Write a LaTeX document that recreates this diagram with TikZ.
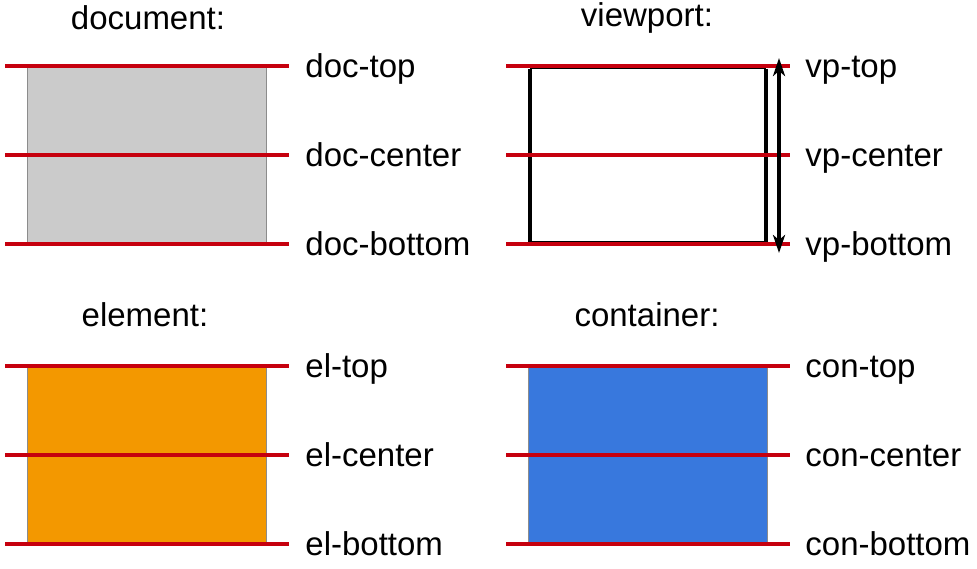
\documentclass[tikz,border=0pt]{standalone}
\usepackage{fontspec}
\setmainfont{Liberation Sans}
\usetikzlibrary{positioning, arrows.meta}
\definecolor{cRed}{HTML}{C6000E}
\definecolor{cGray}{HTML}{CBCBCB}
\definecolor{cOrange}{HTML}{F39800}
\definecolor{cBlue}{HTML}{3878DD}

\begin{document}
\begin{tikzpicture}[
    x=0.5pt, y=-0.5pt,
    % ---------------------------------------------------------
    % styles
    % ---------------------------------------------------------
    mark line/.style={
        draw=cRed,
        line width=2pt
    },
    panel/.style={
        fill=#1,
        draw=gray!90,
        line width=0.5pt
    },
    frame side/.style={
        draw=black,
        line width=2pt
    },
    frame edge/.style={
        draw=black,
        line width=0.8pt
    },
    edge label/.style={
        anchor=base west,
        inner sep=0pt,
        font=\fontsize{16.5}{20}\selectfont
    },
    title/.style={
        inner sep=0pt,
        font=\fontsize{16.5}{20}\selectfont
    }
]
\useasboundingbox (0,0) rectangle (977,568);

% ---------------------------------------------------------
% 1. document
% ---------------------------------------------------------
\node[title] (docTitle) at (148,18) {document:};
\draw[panel=cGray] (27,66) rectangle (266,244);
\coordinate (docTopL) at (5,66);
\coordinate (docTopR) at (289,66);
\coordinate (docMidL) at (5,155);
\coordinate (docMidR) at (289,155);
\coordinate (docBotL) at (5,244);
\coordinate (docBotR) at (289,244);
\draw[mark line] (docTopL) -- (docTopR);
\draw[mark line] (docMidL) -- (docMidR);
\draw[mark line] (docBotL) -- (docBotR);
\node[edge label] (docTop) at (305,77) {doc-top};
\node[edge label] (docCenter) at (305,166) {doc-center};
\node[edge label] (docBottom) at (305,255) {doc-bottom};

% ---------------------------------------------------------
% 2. viewport
% ---------------------------------------------------------
\node[title] (vpTitle) at (647,18) {viewport:};
\coordinate (vpBoxTL) at (530,68.5);
\coordinate (vpBoxTR) at (765.5,68.5);
\coordinate (vpBoxBL) at (530,241.5);
\coordinate (vpBoxBR) at (765.5,241.5);
\draw[frame edge] (vpBoxTL) -- (vpBoxTR);
\draw[frame edge] (vpBoxBL) -- (vpBoxBR);
\draw[frame side] (vpBoxTL) -- (vpBoxBL);
\draw[frame side] (vpBoxTR) -- (vpBoxBR);
\coordinate (vpTopL) at (506,66);
\coordinate (vpTopR) at (790,66);
\coordinate (vpMidL) at (506,155);
\coordinate (vpMidR) at (790,155);
\coordinate (vpBotL) at (506,244);
\coordinate (vpBotR) at (790,244);
\draw[mark line] (vpTopL) -- (vpTopR);
\draw[mark line] (vpMidL) -- (vpMidR);
\draw[mark line] (vpBotL) -- (vpBotR);
\coordinate (vpArrowTop) at (779,58);
\coordinate (vpArrowBot) at (779,253);
\draw[line width=1.8pt, {Stealth[length=9pt, width=6pt, inset=2.5pt]}-{Stealth[length=9pt, width=6pt, inset=2.5pt]}] (vpArrowTop) -- (vpArrowBot);
\node[edge label] (vpTop) at (805,77) {vp-top};
\node[edge label] (vpCenter) at (805,166) {vp-center};
\node[edge label] (vpBottom) at (805,255) {vp-bottom};

% ---------------------------------------------------------
% 3. element
% ---------------------------------------------------------
\node[title] (elTitle) at (145,315) {element:};
\draw[panel=cOrange] (27,366) rectangle (266,544);
\coordinate (elTopL) at (5,366);
\coordinate (elTopR) at (289,366);
\coordinate (elMidL) at (5,455);
\coordinate (elMidR) at (289,455);
\coordinate (elBotL) at (5,544);
\coordinate (elBotR) at (289,544);
\draw[mark line] (elTopL) -- (elTopR);
\draw[mark line] (elMidL) -- (elMidR);
\draw[mark line] (elBotL) -- (elBotR);
\node[edge label] (elTop) at (305,377) {el-top};
\node[edge label] (elCenter) at (305,466) {el-center};
\node[edge label] (elBottom) at (305,555) {el-bottom};

% ---------------------------------------------------------
% 4. container
% ---------------------------------------------------------
\node[title] (conTitle) at (647,315) {container:};
\draw[panel=cBlue] (528,366) rectangle (767,544);
\coordinate (conTopL) at (506,366);
\coordinate (conTopR) at (790,366);
\coordinate (conMidL) at (506,455);
\coordinate (conMidR) at (790,455);
\coordinate (conBotL) at (506,544);
\coordinate (conBotR) at (790,544);
\draw[mark line] (conTopL) -- (conTopR);
\draw[mark line] (conMidL) -- (conMidR);
\draw[mark line] (conBotL) -- (conBotR);
\node[edge label] (conTop) at (805,377) {con-top};
\node[edge label] (conCenter) at (805,466) {con-center};
\node[edge label] (conBottom) at (805,555) {con-bottom};

\end{tikzpicture}
\end{document}
